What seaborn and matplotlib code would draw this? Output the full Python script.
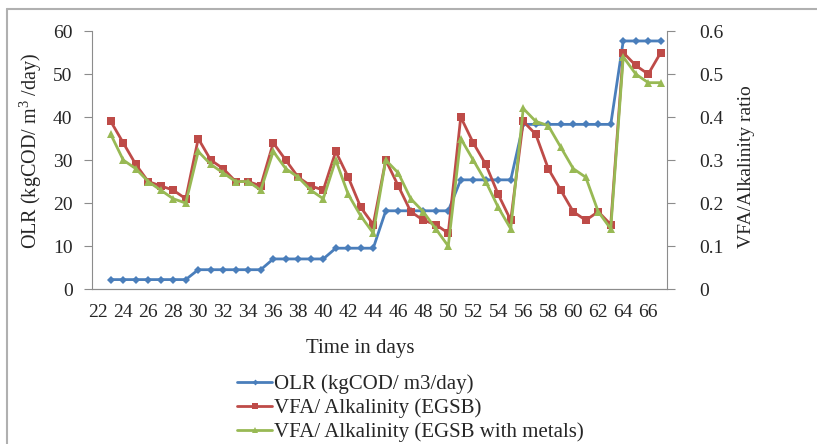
import matplotlib
matplotlib.use("Agg")
import matplotlib.pyplot as plt
import seaborn as sns
from matplotlib.lines import Line2D

# data (day 22 has no reading)
days = list(range(23, 68))
olr = [2.2] * 7 + [4.5] * 6 + [7.0] * 5 + [9.5] * 4 + [18.2] * 6 + [25.4] * 5 + [38.3] * 8 + [57.7] * 4
vfa_egsb = [0.39, 0.34, 0.29, 0.25, 0.24, 0.23, 0.21,
            0.35, 0.30, 0.28, 0.25, 0.25, 0.24,
            0.34, 0.30, 0.26, 0.24, 0.23,
            0.32, 0.26, 0.19, 0.15,
            0.30, 0.24, 0.18, 0.16, 0.15, 0.13,
            0.40, 0.34, 0.29, 0.22, 0.16,
            0.39, 0.36, 0.28, 0.23, 0.18, 0.16, 0.18, 0.15,
            0.55, 0.52, 0.50, 0.55]
vfa_metals = [0.36, 0.30, 0.28, 0.25, 0.23, 0.21, 0.20,
              0.32, 0.29, 0.27, 0.25, 0.25, 0.23,
              0.32, 0.28, 0.26, 0.23, 0.21,
              0.30, 0.22, 0.17, 0.13,
              0.30, 0.27, 0.21, 0.18, 0.14, 0.10,
              0.35, 0.30, 0.25, 0.19, 0.14,
              0.42, 0.39, 0.38, 0.33, 0.28, 0.26, 0.18, 0.14,
              0.54, 0.50, 0.48, 0.48]
xticks = list(range(22, 67, 2))
left_ticks = [0, 10, 20, 30, 40, 50, 60]
right_ticks = [0, 0.1, 0.2, 0.3, 0.4, 0.5, 0.6]

sns.set_style("white")
plt.rcParams['font.family'] = ['Liberation Serif', 'DejaVu Serif']
plt.rcParams['mathtext.fontset'] = 'custom'
plt.rcParams['mathtext.rm'] = 'Liberation Serif'
plt.rcParams['mathtext.it'] = 'Liberation Serif:italic'

fig = plt.figure(figsize=(8.17, 4.44), dpi=100)
ax = fig.add_axes([0.1126, 0.349, 0.7038, 0.581])
ax2 = ax.twinx()

blue, red, green = '#4A7EBB', '#BE4B48', '#98B954'

sns.lineplot(x=days, y=olr, ax=ax, color=blue, lw=2, marker='D',
             markersize=4, markeredgewidth=0, label='OLR (kgCOD/ m3/day)')
sns.lineplot(x=days, y=vfa_egsb, ax=ax2, color=red, lw=2, marker='s',
             markersize=5.5, markeredgewidth=0, label='VFA/ Alkalinity (EGSB)')
sns.lineplot(x=days, y=vfa_metals, ax=ax2, color=green, lw=2, marker='^',
             markersize=6, markeredgewidth=0, label='VFA/ Alkalinity (EGSB with metals)')

for a in (ax, ax2):
    if a.get_legend() is not None:
        a.get_legend().remove()

ax.set_xlim(21.5, 67.5)
ax.set_ylim(0, 60)
ax2.set_ylim(0, 0.6)
ax.set_xticks(xticks)
ax.set_xticklabels([str(t) for t in xticks], fontsize=14)
ax.set_yticks(left_ticks)
ax.set_yticklabels([str(t) for t in left_ticks], fontsize=14)
ax2.set_yticks(right_ticks)
ax2.set_yticklabels(['0'] + [f'{t:.1f}' for t in right_ticks[1:]], fontsize=14)

spine_col = '#8c8c8c'
for a in (ax, ax2):
    for s in a.spines.values():
        s.set_visible(False)
    a.spines['bottom'].set_visible(True)
    a.spines['bottom'].set_color(spine_col)
ax.spines['left'].set_visible(True)
ax.spines['left'].set_color(spine_col)
ax2.spines['right'].set_visible(True)
ax2.spines['right'].set_color(spine_col)

ax.tick_params(axis='y', direction='out', length=6, color=spine_col, pad=8, left=True)
ax.tick_params(axis='x', length=0, pad=11)
ax2.tick_params(axis='y', direction='out', length=6, color=spine_col, pad=17, right=True)
ax.set_xlabel('')
ax.set_ylabel('')
ax2.set_ylabel('')

fig.text(0.038, 0.66, 'OLR (kgCOD/ m$^3$ /day)', rotation=90, ha='center', va='center', fontsize=14.5)
fig.text(0.914, 0.625, 'VFA/Alkalinity ratio', rotation=90, ha='center', va='center', fontsize=14)
fig.text(0.4406, 0.214, 'Time in days', ha='center', va='center', fontsize=15)

handles = [Line2D([], [], color=blue, lw=2, marker='D', markersize=3, markeredgewidth=0),
           Line2D([], [], color=red, lw=2, marker='s', markersize=4, markeredgewidth=0),
           Line2D([], [], color=green, lw=2, marker='^', markersize=4, markeredgewidth=0)]
labels = ['OLR (kgCOD/ m3/day)', 'VFA/ Alkalinity (EGSB)', 'VFA/ Alkalinity (EGSB with metals)']
fig.legend(handles, labels, loc='upper left', bbox_to_anchor=(0.29, 0.157), frameon=False,
           fontsize=15, handlelength=1.7, handletextpad=0.1, labelspacing=0.2,
           borderpad=0, borderaxespad=0)

# chart area frame (left and top edges visible in the crop)
fig.add_artist(Line2D([0.009, 0.009], [0, 0.98], color='#b0b0b0', lw=1.5, transform=fig.transFigure))
fig.add_artist(Line2D([0.009, 1.0], [0.98, 0.98], color='#b0b0b0', lw=1.5, transform=fig.transFigure))

fig.savefig('out.png', dpi=100)
